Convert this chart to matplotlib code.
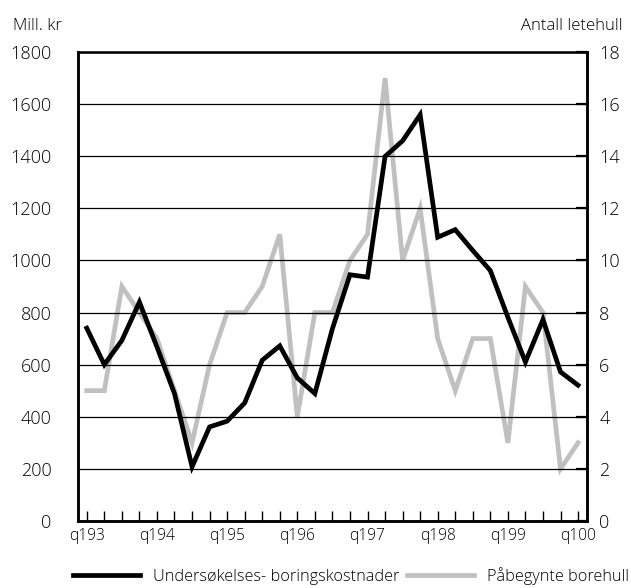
import matplotlib.pyplot as plt
import numpy as np

# quarterly data, q1 1993 - q1 2000
quarters = ['q193', 'q194', 'q195', 'q196', 'q197', 'q198', 'q199', 'q100']
kostnader = [740, 600, 693, 840, 668, 489, 208, 361, 383, 453,
             617, 672, 549, 489, 738, 945, 936, 1399, 1459, 1559,
             1089, 1118, 1038, 961, 782, 610, 773, 572, 521]
borehull = [5, 5, 9, 8, 7, 5, 3, 6, 8, 8,
            9, 11, 4, 8, 8, 10, 11, 17, 10, 12,
            7, 5, 7, 7, 3, 9, 8, 2, 3]

plt.rcParams['font.family'] = ['Open Sans', 'DejaVu Sans']
plt.rcParams['font.weight'] = 'light'
plt.rcParams['font.size'] = 11.5

fig, ax = plt.subplots(figsize=(6.31, 5.88), dpi=100)
fig.subplots_adjust(left=0.1236, right=0.930, top=0.9116, bottom=0.114)
ax2 = ax.twinx()

x = np.arange(len(kostnader))
l2, = ax2.plot(x, borehull, color='#c0c0c0', lw=3.4, solid_joinstyle='miter',
               label='Påbegynte borehull')
l1, = ax.plot(x, kostnader, color='black', lw=3.4, solid_joinstyle='miter',
              label='Undersøkelses- boringskostnader')
ax.set_zorder(ax2.get_zorder() + 1)
ax.patch.set_visible(False)

ax.set_xlim(-0.5, len(x) - 0.5)
ax.set_ylim(0, 1800)
ax2.set_ylim(0, 18)
ax.set_yticks(np.arange(0, 1801, 200))
ax2.set_yticks(np.arange(0, 19, 2))
ax.yaxis.grid(True, color='black', lw=0.9)
ax.set_axisbelow(True)

ax.set_xticks(x)
ax.set_xticklabels([quarters[i // 4] if i % 4 == 0 else '' for i in x])
ax.tick_params(axis='x', direction='in', length=7, width=1.0, pad=5, labelsize=11.2)
ax.tick_params(axis='y', length=0, pad=19, labelsize=13)
ax2.tick_params(axis='y', direction='in', length=8, width=1.6, pad=9, labelsize=13)

for a in (ax, ax2):
    for s in a.spines.values():
        s.set_linewidth(1.8)
ax.spines['top'].set_linewidth(0.9)

fig.text(0.02, 0.956, 'Mill. kr', ha='left', va='center', fontsize=12)
fig.text(0.986, 0.956, 'Antall letehull', ha='right', va='center', fontsize=12)

fig.legend(handles=[l1, l2], loc='center', bbox_to_anchor=(0.556, 0.021),
           ncol=2, frameon=False, handlelength=4.1, handletextpad=0.8,
           columnspacing=0.5, fontsize=11.7, borderpad=0, borderaxespad=0)

fig.savefig('out.png', dpi=100)
